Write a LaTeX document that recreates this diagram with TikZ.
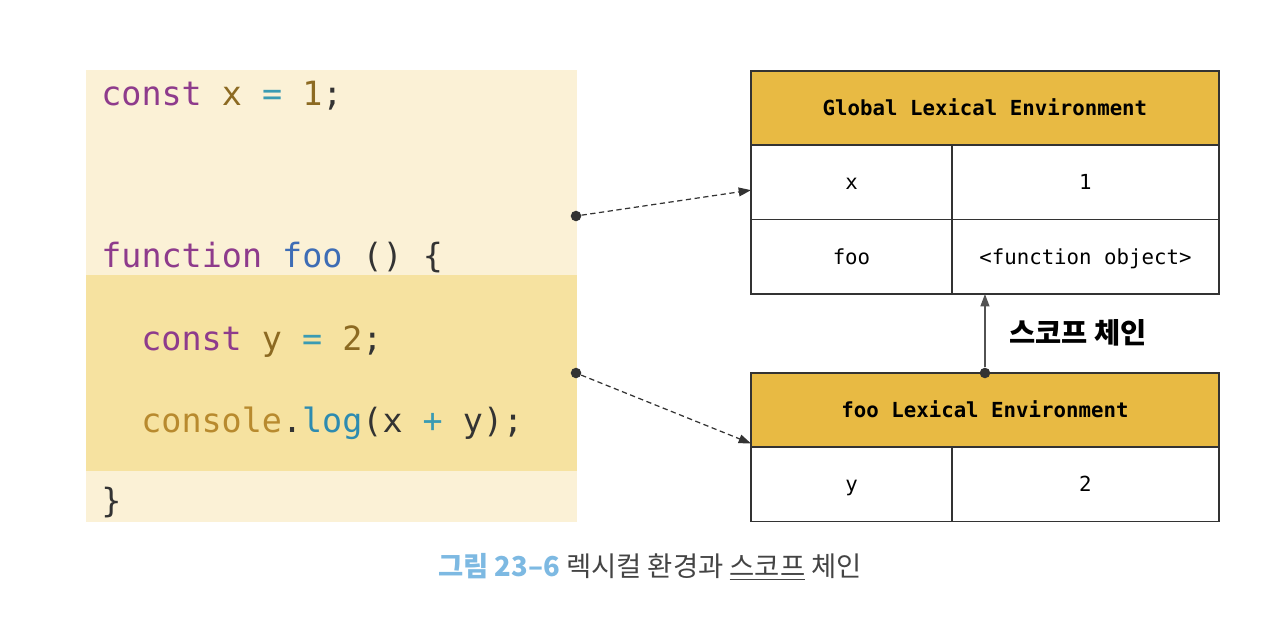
\documentclass[tikz,border=0pt]{standalone}
\usepackage{fontspec}
\usepackage{xcolor}
\setmonofont{DejaVu Sans Mono}
\newfontfamily\krfont{Noto Sans CJK KR}
\usetikzlibrary{positioning,arrows.meta}
\definecolor{codebg}{HTML}{FBF1D6}
\definecolor{codeband}{HTML}{F6E2A0}
\definecolor{ckw}{HTML}{8E3B8C}
\definecolor{cvar}{HTML}{8C6A22}
\definecolor{cop}{HTML}{3A9BB3}
\definecolor{cfn}{HTML}{3E6DB5}
\definecolor{cobj}{HTML}{B88A2E}
\definecolor{cmeth}{HTML}{2D8BB0}
\definecolor{cpunct}{HTML}{333333}
\definecolor{hdrfill}{HTML}{E8BA43}
\definecolor{edge}{HTML}{333333}
\definecolor{capblue}{HTML}{7DB9E2}
\definecolor{capgray}{HTML}{444444}
\newcommand\kw[1]{\textcolor{ckw}{#1}}
\newcommand\vr[1]{\textcolor{cvar}{#1}}
\newcommand\op[1]{\textcolor{cop}{#1}}
\newcommand\fn[1]{\textcolor{cfn}{#1}}
\newcommand\ob[1]{\textcolor{cobj}{#1}}
\newcommand\mt[1]{\textcolor{cmeth}{#1}}
\tikzset{
  codebox/.style={fill=codebg,draw=none,minimum width=9.82cm,minimum height=9.04cm,inner sep=0pt,outer sep=0pt},
  bandbox/.style={fill=codeband,draw=none,minimum width=9.82cm,minimum height=3.92cm,inner sep=0pt,outer sep=0pt},
  codeline/.style={anchor=base west,inner sep=0pt,text=cpunct,font=\ttfamily\fontsize{19}{22}\selectfont},
  hdr/.style={draw=edge,fill=hdrfill,line width=1.1pt,outer sep=0pt,minimum width=9.36cm,minimum height=1.48cm,text height=2.2ex,text depth=.2ex,font=\ttfamily\bfseries\fontsize{11.8}{14}\selectfont},
  keycell/.style={draw=edge,fill=white,line width=1.1pt,outer sep=0pt,minimum width=4.02cm,minimum height=1.49cm,text height=2.2ex,text depth=.2ex,font=\ttfamily\fontsize{11.8}{14}\selectfont},
  valcell/.style={keycell,minimum width=5.34cm},
  link/.style={-{Triangle[length=7pt,width=5pt]},dash pattern=on 3pt off 2pt,line width=0.7pt,draw=edge},
  chain/.style={-{Triangle[length=7pt,width=5pt]},line width=0.9pt,draw=edge!85},
  dot/.style={circle,fill=edge,inner sep=0pt,minimum size=6pt},
}
\begin{document}
\begin{tikzpicture}[x=0.02cm,y=-0.02cm]
  \useasboundingbox (0,0) rectangle (1274,626);
  % code panel
  \node[codebox,anchor=north west] (code) at (86,70) {};
  \node[bandbox,anchor=north west] (band) at (86,275) {};
  \node[codeline] (l1) at (101,105) {\kw{const} \vr{x} \op{=} \vr{1};};
  \node[codeline] (l2) at (101,267) {\kw{function} \fn{foo} () \{};
  \node[codeline] (l3) at (141,350) {\kw{const} \vr{y} \op{=} \vr{2};};
  \node[codeline] (l4) at (141,432) {\ob{console}.\mt{log}(x \op{+} y);};
  \node[codeline] (l5) at (101,512) {\}};
  % global environment
  \node[hdr,anchor=north west] (ghead) at (751,71) {Global Lexical Environment};
  \node[keycell,below right=0pt and 0pt of ghead.south west] (gk1) {x};
  \node[valcell,right=0pt of gk1] (gv1) {1};
  \node[keycell,below=0pt of gk1] (gk2) {foo};
  \node[valcell,right=0pt of gk2] (gv2) {<function object>};
  % foo environment
  \node[hdr,anchor=north west] (fhead) at (751,373) {foo Lexical Environment};
  \node[keycell,below right=0pt and 0pt of fhead.south west] (fk1) {y};
  \node[valcell,right=0pt of fk1] (fv1) {2};
  % connectors
  \node[dot] (gdot) at (576,216) {};
  \node[dot] (fdot) at (576,373) {};
  \node[dot] (sdot) at (fhead.north) {};
  \draw[link] (gdot) -- ([yshift=-4.5pt]gk1.west);
  \draw[link] (fdot) -- ([yshift=2pt]fhead.south west);
  \draw[chain] (sdot) -- (sdot |- gk2.south);
  \node[anchor=west,font=\krfont\bfseries\fontsize{16.2}{19}\selectfont] (chainlbl) at (1003,333) {스코프 체인};
  % caption
  \node[font=\krfont\fontsize{15.6}{18}\selectfont,text=capgray] (cap) at (650,567)
    {\textcolor{capblue}{\bfseries 그림 23–6} 렉시컬 환경과 \underline{스코프} 체인};
\end{tikzpicture}
\end{document}
